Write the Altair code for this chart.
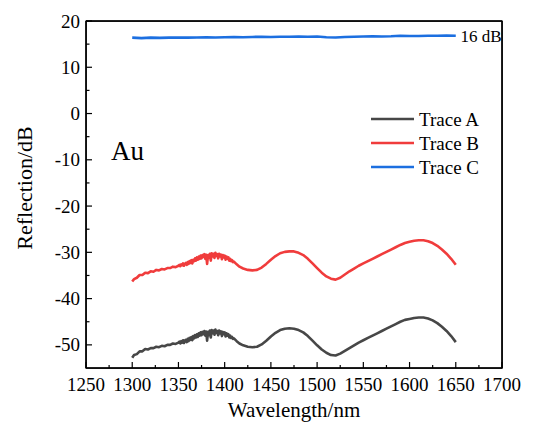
import altair as alt
import pandas as pd

# ---------------- data ----------------
series_names = ["Trace A", "Trace B", "Trace C"]
series_colors = ["#474747", "#f03c3c", "#1c6fe0"]

wl_ab = ([1300, 1302, 1305, 1308, 1311, 1314, 1317, 1320, 1323, 1326, 1329, 1332, 1335, 1338,
          1341, 1344, 1347]
         + [1350, 1351, 1352, 1353, 1354, 1355, 1356, 1357, 1358, 1359, 1360, 1361, 1362, 1363, 1364,
            1365, 1366, 1367, 1368, 1369, 1370, 1371, 1372, 1373, 1374, 1375, 1376, 1377, 1378, 1379,
            1380, 1381, 1382, 1383, 1384, 1385, 1386, 1387, 1388, 1389, 1390, 1391, 1392, 1393, 1394,
            1395, 1396, 1397, 1398, 1399, 1400, 1401, 1402, 1403, 1404, 1405, 1406, 1407, 1408, 1409, 1410]
         + [1413, 1416, 1420, 1425, 1430, 1435, 1440, 1445, 1450, 1455, 1460, 1465, 1470, 1475, 1480,
            1485, 1490, 1495, 1500, 1505, 1510, 1515, 1520, 1525, 1530, 1535, 1540, 1545, 1550, 1555,
            1560, 1565, 1570, 1575, 1580, 1585, 1590, 1595, 1600, 1605, 1610, 1615, 1620, 1625, 1630,
            1635, 1640, 1645, 1650])

trace_b = ([-36.3, -35.8, -35.5, -34.9, -34.9, -34.4, -34.5, -34.1, -34.2, -33.8, -33.9, -33.6, -33.7, -33.4,
            -33.4, -33.1, -33.2]
           + [-32.9, -32.7, -33.0, -32.6, -32.8, -32.4, -32.9, -32.5, -32.3, -32.7, -32.1, -32.5, -31.9, -32.3,
              -31.7, -32.4, -31.6, -31.9, -31.3, -31.8, -31.1, -31.6, -30.9, -31.4, -30.7, -31.3, -30.6, -31.0,
              -30.4, -31.4, -30.5, -32.5, -30.6, -31.2, -30.3, -31.8, -30.2, -30.9, -30.3, -31.2, -30.1, -30.8,
              -30.4, -31.3, -30.3, -30.9, -30.5, -31.5, -30.6, -31.1, -30.7, -31.6, -30.9, -31.4, -31.1, -31.8,
              -31.4, -31.9, -31.7, -32.1, -32.0]
           + [-32.6, -33.1, -33.5, -33.8, -33.9, -33.8, -33.3, -32.5, -31.6, -30.8, -30.2, -29.9, -29.8, -29.8,
              -30.1, -30.6, -31.4, -32.4, -33.4, -34.4, -35.2, -35.7, -35.9, -35.5, -34.8, -34.1, -33.5, -32.9,
              -32.4, -31.9, -31.4, -30.9, -30.4, -29.9, -29.4, -28.9, -28.4, -28.0, -27.7, -27.5, -27.4, -27.4,
              -27.6, -28.0, -28.6, -29.4, -30.3, -31.4, -32.7])

trace_a = ([-52.8, -52.2, -52.0, -51.4, -51.4, -50.9, -51.0, -50.7, -50.7, -50.4, -50.5, -50.2, -50.3, -50.0,
            -50.0, -49.7, -49.8]
           + [-49.5, -49.3, -49.7, -49.2, -49.5, -49.0, -49.6, -49.1, -48.9, -49.4, -48.7, -49.2, -48.5, -48.9,
              -48.3, -49.0, -48.1, -48.6, -47.9, -48.4, -47.7, -48.3, -47.5, -48.0, -47.3, -47.9, -47.2, -47.7,
              -47.0, -48.0, -47.1, -49.1, -47.2, -47.9, -46.9, -48.4, -46.8, -47.5, -46.9, -47.8, -46.7, -47.4,
              -47.0, -47.9, -46.9, -47.5, -47.1, -48.1, -47.2, -47.7, -47.3, -48.2, -47.5, -48.0, -47.7, -48.4,
              -48.0, -48.5, -48.3, -48.7, -48.6]
           + [-49.2, -49.7, -50.1, -50.4, -50.5, -50.4, -49.9, -49.1, -48.2, -47.4, -46.8, -46.5, -46.4, -46.5,
              -46.8, -47.3, -48.1, -49.1, -50.1, -51.0, -51.7, -52.2, -52.3, -51.9, -51.3, -50.7, -50.1, -49.5,
              -49.0, -48.5, -48.0, -47.5, -47.0, -46.5, -46.0, -45.5, -45.0, -44.6, -44.4, -44.2, -44.1, -44.1,
              -44.3, -44.7, -45.3, -46.1, -47.0, -48.1, -49.4])

wl_c = [1300, 1310, 1320, 1330, 1340, 1350, 1360, 1370, 1380, 1390, 1400, 1410, 1420, 1430, 1440,
        1450, 1460, 1470, 1480, 1490, 1500, 1510, 1520, 1530, 1540, 1550, 1560, 1570, 1580, 1590,
        1600, 1610, 1620, 1630, 1640, 1650]
trace_c = [16.4, 16.3, 16.4, 16.35, 16.4, 16.45, 16.4, 16.45, 16.5, 16.45, 16.5, 16.55, 16.5, 16.55, 16.6,
           16.55, 16.6, 16.6, 16.65, 16.6, 16.65, 16.5, 16.45, 16.55, 16.6, 16.65, 16.7, 16.65, 16.7, 16.8,
           16.75, 16.75, 16.8, 16.8, 16.85, 16.8]

x_domain = [1250, 1700]
y_domain = [-55, 20]
x_major = [1250, 1300, 1350, 1400, 1450, 1500, 1550, 1600, 1650, 1700]
x_minor = [1275, 1325, 1375, 1425, 1475, 1525, 1575, 1625, 1675]
y_major = [20, 10, 0, -10, -20, -30, -40, -50]
y_minor = [15, 5, -5, -15, -25, -35, -45]

x_title = "Wavelength/nm"
y_title = "Reflection/dB"

annotations = [{"wl": 1655, "val": 16.5, "label": "16 dB", "size": 17},
               {"wl": 1277, "val": -8.3, "label": "Au", "size": 27}]

# ---------------- build ----------------
W, H = 416, 347
FONT = "Liberation Serif"

rows = []
for w, v in zip(wl_ab, trace_a):
    rows.append({"wl": w, "val": v, "series": "Trace A"})
for w, v in zip(wl_ab, trace_b):
    rows.append({"wl": w, "val": v, "series": "Trace B"})
for w, v in zip(wl_c, trace_c):
    rows.append({"wl": w, "val": v, "series": "Trace C"})
df = pd.DataFrame(rows)

xs = alt.Scale(domain=x_domain, nice=False, zero=False)
ys = alt.Scale(domain=y_domain, nice=False, zero=False)

lines = alt.Chart(df).mark_line(strokeWidth=2.6, strokeJoin="round").encode(
    x=alt.X("wl:Q", scale=xs, axis=None),
    y=alt.Y("val:Q", scale=ys, axis=None),
    color=alt.Color("series:N", scale=alt.Scale(domain=series_names, range=series_colors), legend=None),
    detail="series:N",
)

def xticks(vals, length):
    return alt.Chart(pd.DataFrame({"v": vals})).mark_rule(color="black", strokeWidth=1.2).encode(
        x=alt.X("v:Q", scale=xs, axis=None), y=alt.value(H), y2=alt.value(H - length))

def yticks(vals, length):
    return alt.Chart(pd.DataFrame({"v": vals})).mark_rule(color="black", strokeWidth=1.2).encode(
        y=alt.Y("v:Q", scale=ys, axis=None), x=alt.value(0), x2=alt.value(length))

# plot frame: the four edges, placed through the scales
edges = pd.DataFrame({
    "x1": [x_domain[0], x_domain[0], x_domain[0], x_domain[1]],
    "x2": [x_domain[1], x_domain[1], x_domain[0], x_domain[1]],
    "y1": [y_domain[1], y_domain[0], y_domain[0], y_domain[0]],
    "y2": [y_domain[1], y_domain[0], y_domain[1], y_domain[1]],
})
frame = alt.Chart(edges).mark_rule(color="black", strokeWidth=1.4).encode(
    x=alt.X("x1:Q", scale=xs, axis=None), x2="x2:Q",
    y=alt.Y("y1:Q", scale=ys, axis=None), y2="y2:Q")

xlabels = alt.Chart(pd.DataFrame({"v": x_major, "t": [str(v) for v in x_major]})).mark_text(
    font=FONT, fontSize=19, align="center", baseline="alphabetic", color="black").encode(
    x=alt.X("v:Q", scale=xs, axis=None), y=alt.value(H + 23), text="t:N")

ylabels = alt.Chart(pd.DataFrame({"v": y_major, "t": [str(v) for v in y_major]})).mark_text(
    font=FONT, fontSize=19, align="right", baseline="alphabetic", dy=6.5, color="black").encode(
    y=alt.Y("v:Q", scale=ys, axis=None), x=alt.value(-6), text="t:N")

xtitle = alt.Chart(pd.DataFrame({"t": [x_title]})).mark_text(
    font=FONT, fontSize=21, align="center", baseline="alphabetic", color="black").encode(
    x=alt.value(W / 2), y=alt.value(H + 49), text="t:N")

ytitle = alt.Chart(pd.DataFrame({"t": [y_title]})).mark_text(
    font=FONT, fontSize=22, align="center", baseline="alphabetic", angle=270, color="black").encode(
    x=alt.value(-54), y=alt.value(167), text="t:N")

ann = alt.Chart(pd.DataFrame(annotations)).mark_text(
    font=FONT, align="left", baseline="middle", color="black").encode(
    x=alt.X("wl:Q", scale=xs, axis=None), y=alt.Y("val:Q", scale=ys, axis=None), text="label:N",
    size=alt.Size("size:Q", scale=None, legend=None))

legend_layers = []
for i, (name, col) in enumerate(zip(series_names, series_colors)):
    ypix = 98 + 24 * i
    legend_layers.append(
        alt.Chart(pd.DataFrame({"s": [name]})).mark_rule(color=col, strokeWidth=2.6).encode(
            x=alt.value(285), x2=alt.value(328), y=alt.value(ypix)))
    legend_layers.append(
        alt.Chart(pd.DataFrame({"s": [name]})).mark_text(
            font=FONT, fontSize=19, align="left", baseline="middle", color="black").encode(
            x=alt.value(333), y=alt.value(ypix + 1), text="s:N"))

chart = alt.layer(
    lines, xticks(x_major, 6), xticks(x_minor, 3), yticks(y_major, 6), yticks(y_minor, 3.5),
    frame, xlabels, ylabels, xtitle, ytitle, ann, *legend_layers
).properties(
    width=W, height=H,
    background="white",
    autosize=alt.AutoSizeParams(type="none"),
    padding={"left": 78, "top": 13, "right": 25, "bottom": 56},
).configure_view(stroke="black", strokeWidth=1.4)

chart.save("out.html", embed_options={"renderer": "svg", "actions": False})
